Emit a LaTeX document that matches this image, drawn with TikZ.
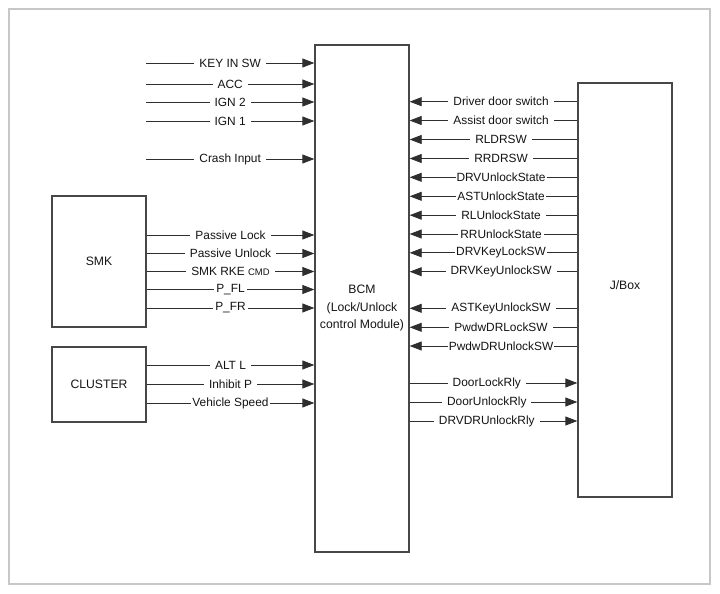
\documentclass[tikz,border=0pt]{standalone}
\usepackage{fontspec}
\setmainfont{Liberation Sans}
\usetikzlibrary{arrows.meta}
\begin{document}
\begin{tikzpicture}[x=1pt,y=-1pt,
  box/.style={draw=black!72, line width=1.3pt, inner sep=0pt, align=center, text=black!92, font=\fontsize{12.2}{17.5}\selectfont},
  boxtext/.style={align=center, text=black!92, inner sep=0pt, font=\fontsize{12.2}{17.5}\selectfont},
  sig/.style={draw=black!82, line width=0.8pt, -{Triangle[length=12pt,width=9pt]}},
  lbl/.style={fill=white, inner xsep=5pt, inner ysep=1pt, text=black!92, font=\fontsize{11.9}{13}\selectfont}]
\useasboundingbox (0,0) rectangle (720,594);
\draw[draw=black!22, line width=1.2pt] (9,9) rectangle (710,584);

% boxes
\node[box, minimum width=94pt, minimum height=507pt] (bcm) at (362,298.5) {};
\node[boxtext] (bcmlabel) at (362,308.5) {BCM\\(Lock/Unlock\\control Module)};
\node[box, minimum width=94pt, minimum height=414pt] (jbox) at (625,290) {};
\node[boxtext] (jboxlabel) at (625,285) {J/Box};
\node[box, minimum width=94pt, minimum height=131pt] (smk) at (99,261.5) {SMK};
\node[box, minimum width=94pt, minimum height=75pt] (cluster) at (99,384.5) {CLUSTER};

% free inputs
\coordinate (kin) at (146,63);
\coordinate (acc) at (146,84);
\coordinate (ign2) at (146,102);
\coordinate (ign1) at (146,121);
\coordinate (crash) at (146,159);
\draw[sig] (kin) -- node[lbl]{KEY IN SW} (bcm.west |- kin);
\draw[sig] (acc) -- node[lbl]{ACC} (bcm.west |- acc);
\draw[sig] (ign2) -- node[lbl]{IGN 2} (bcm.west |- ign2);
\draw[sig] (ign1) -- node[lbl]{IGN 1} (bcm.west |- ign1);
\draw[sig] (crash) -- node[lbl]{Crash Input} (bcm.west |- crash);

% SMK
\draw[sig] (smk.east |- 0,235) -- node[lbl]{Passive Lock} (bcm.west |- 0,235);
\draw[sig] (smk.east |- 0,253.5) -- node[lbl]{Passive Unlock} (bcm.west |- 0,253.5);
\draw[sig] (smk.east |- 0,271.5) -- node[lbl]{SMK RKE {\fontsize{9.5}{10}\selectfont CMD}} (bcm.west |- 0,271.5);
\draw[sig] (smk.east |- 0,289.5) -- node[lbl,inner xsep=2pt]{P\_FL} (bcm.west |- 0,289.5);
\draw[sig] (smk.east |- 0,308) -- node[lbl,inner xsep=2pt]{P\_FR} (bcm.west |- 0,308);

% CLUSTER
\draw[sig] (cluster.east |- 0,365) -- node[lbl]{ALT L} (bcm.west |- 0,365);
\draw[sig] (cluster.east |- 0,384) -- node[lbl]{Inhibit P} (bcm.west |- 0,384);
\draw[sig] (cluster.east |- 0,403) -- node[lbl,inner xsep=1pt]{Vehicle Speed} (bcm.west |- 0,403);

% J/Box -> BCM
\draw[sig] (jbox.west |- 0,101.7) -- node[lbl,pos=0.455]{Driver door switch} (bcm.east |- 0,101.7);
\draw[sig] (jbox.west |- 0,120.5) -- node[lbl,pos=0.455]{Assist door switch} (bcm.east |- 0,120.5);
\draw[sig] (jbox.west |- 0,139.5) -- node[lbl,pos=0.455]{RLDRSW} (bcm.east |- 0,139.5);
\draw[sig] (jbox.west |- 0,158.5) -- node[lbl,pos=0.455]{RRDRSW} (bcm.east |- 0,158.5);
\draw[sig] (jbox.west |- 0,177.3) -- node[lbl,pos=0.455,inner xsep=1pt]{DRVUnlockState} (bcm.east |- 0,177.3);
\draw[sig] (jbox.west |- 0,196.3) -- node[lbl,pos=0.455,inner xsep=1pt]{ASTUnlockState} (bcm.east |- 0,196.3);
\draw[sig] (jbox.west |- 0,215.2) -- node[lbl,pos=0.455]{RLUnlockState} (bcm.east |- 0,215.2);
\draw[sig] (jbox.west |- 0,234) -- node[lbl,pos=0.455,inner xsep=2pt]{RRUnlockState} (bcm.east |- 0,234);
\draw[sig] (jbox.west |- 0,252.8) -- node[lbl,pos=0.455,inner xsep=1pt]{DRVKeyLockSW} (bcm.east |- 0,252.8);
\draw[sig] (jbox.west |- 0,271.7) -- node[lbl,pos=0.455]{DRVKeyUnlockSW} (bcm.east |- 0,271.7);
\draw[sig] (jbox.west |- 0,308.3) -- node[lbl,pos=0.455]{ASTKeyUnlockSW} (bcm.east |- 0,308.3);
\draw[sig] (jbox.west |- 0,327.3) -- node[lbl,pos=0.455]{PwdwDRLockSW} (bcm.east |- 0,327.3);
\draw[sig] (jbox.west |- 0,346) -- node[lbl,pos=0.455,inner xsep=1pt]{PwdwDRUnlockSW} (bcm.east |- 0,346);

% BCM -> J/Box
\draw[sig] (bcm.east |- 0,383) -- node[lbl,pos=0.46]{DoorLockRly} (jbox.west |- 0,383);
\draw[sig] (bcm.east |- 0,402) -- node[lbl,pos=0.46]{DoorUnlockRly} (jbox.west |- 0,402);
\draw[sig] (bcm.east |- 0,421) -- node[lbl,pos=0.46]{DRVDRUnlockRly} (jbox.west |- 0,421);
\end{tikzpicture}
\end{document}
